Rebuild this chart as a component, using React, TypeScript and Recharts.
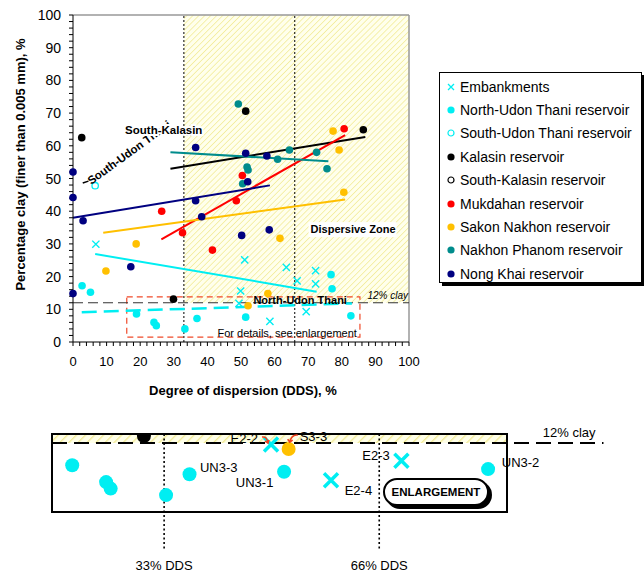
import React from "react";
import {
  ScatterChart, Scatter, XAxis, YAxis, ReferenceArea, ReferenceLine, ReferenceDot, Legend,
} from "recharts";

const FONT = "'Liberation Sans', Arial, Helvetica, sans-serif";
const CYAN = "#00eef2";
const GOLD = "#ffc000";
const TEAL = "#008c8c";
const NAVY = "#000080";
const RED = "#ff0000";

// points: [DDS %, clay %]
const embankments = [
  [6.8, 29.9], [51.1, 25.1], [63.5, 22.8], [72.2, 21.8], [66.7, 18.7],
  [72.2, 17.8], [49.9, 15.6], [49.4, 11.8], [69.4, 9.3], [58.6, 6.3],
];
const northUdon = [
  [2.7, 17.2], [5.2, 15.2], [18.9, 8.6], [24.1, 6.0], [24.8, 5.0], [33.3, 4.0],
  [36.9, 7.2], [51.4, 7.6], [76.8, 20.6], [77.1, 16.3], [82.7, 8.0],
];
const southUdon = [[6.6, 47.8]];
const kalasin = [[2.6, 62.5], [51.4, 70.6], [86.4, 64.9], [29.9, 13.1]];
const southKalasin: number[][] = [];
const mukdahan = [[26.4, 40.0], [32.6, 33.4], [41.5, 28.1], [48.6, 43.2], [50.4, 50.9], [80.7, 65.2]];
const sakon = [
  [9.8, 21.7], [18.8, 30.0], [52.1, 11.1], [58.0, 14.8], [61.6, 31.7],
  [77.4, 64.5], [79.2, 58.7], [80.6, 45.8],
];
const nakhon = [
  [49.2, 72.8], [51.8, 53.5], [52.1, 52.6], [50.5, 48.4], [60.9, 55.9],
  [64.4, 58.7], [72.5, 58.0], [75.6, 53.0],
];
const nongKhai = [
  [0, 52.0], [0, 44.2], [0, 14.8], [3.0, 37.1], [17.2, 23.0], [36.5, 59.5], [36.5, 43.2],
  [38.3, 38.3], [50.2, 32.6], [51.4, 57.7], [52.0, 49.0], [57.7, 56.9], [58.4, 34.3],
];

// trend lines: [start, end]
const embankmentTrend = [[6.6, 26.9], [72.5, 15.4]];
const northUdonTrend = [[2.6, 9.1], [83.0, 11.8]];
const kalasinTrend = [[29.0, 53.0], [87.0, 62.7]];
const mukdahanTrend = [[26.3, 31.4], [81.0, 63.3]];
const sakonTrend = [[9.0, 33.4], [81.0, 43.6]];
const nakhonTrend = [[29.0, 58.0], [76.0, 55.3]];
const nongKhaiTrend = [[0, 38.0], [58.6, 47.9]];
const southKalasinLeader = [[32.8, 63.3], [37.3, 63.3]];
const southUdonLeader = [[2.9, 48.6], [4.6, 49.2]];

const axisTicks = [
  0, 2, 4, 6, 8, 10, 12, 14, 16, 18, 20, 22, 24, 26, 28, 30, 32, 34, 36, 38, 40, 42, 44, 46, 48, 50,
  52, 54, 56, 58, 60, 62, 64, 66, 68, 70, 72, 74, 76, 78, 80, 82, 84, 86, 88, 90, 92, 94, 96, 98, 100,
];

const series = [
  { name: "Embankments", data: embankments, color: CYAN, mark: "x" },
  { name: "North-Udon Thani reservoir", data: northUdon, color: CYAN, mark: "dot" },
  { name: "South-Udon Thani reservoir", data: southUdon, color: CYAN, mark: "ring" },
  { name: "Kalasin reservoir", data: kalasin, color: "#000", mark: "dot" },
  { name: "South-Kalasin reservoir", data: southKalasin, color: "#000", mark: "ring" },
  { name: "Mukdahan reservoir", data: mukdahan, color: RED, mark: "dot" },
  { name: "Sakon Nakhon reservoir", data: sakon, color: GOLD, mark: "dot" },
  { name: "Nakhon Phanom reservoir", data: nakhon, color: TEAL, mark: "dot" },
  { name: "Nong Khai reservoir", data: nongKhai, color: NAVY, mark: "dot" },
];

const trends = [
  { pts: embankmentTrend, color: CYAN, width: 2 },
  { pts: northUdonTrend, color: CYAN, width: 2.5, dash: "15 7" },
  { pts: kalasinTrend, color: "#000", width: 2 },
  { pts: mukdahanTrend, color: RED, width: 2 },
  { pts: sakonTrend, color: GOLD, width: 2 },
  { pts: nakhonTrend, color: TEAL, width: 2 },
  { pts: nongKhaiTrend, color: NAVY, width: 2 },
  { pts: southKalasinLeader, color: "#000", width: 1.5 },
  { pts: southUdonLeader, color: "#000", width: 1.5 },
];

const mainNotes = [
  { text: "South-Udon Thani", x: 5.4, y: 48.0, size: 11.5, bold: true, angle: -36 },
  { text: "South-Kalasin", x: 15.5, y: 63.6, size: 11.5, bold: true, halo: true },
  { text: "Dispersive Zone", x: 70.7, y: 33.3, size: 11, bold: true, box: 88 },
  { text: "North-Udon Thani", x: 53.7, y: 11.6, size: 11, bold: true },
  { text: "12% clay", x: 99.7, y: 13.1, size: 10, anchor: "end", italic: true },
  { text: "For details, see enlargement", x: 43.0, y: 1.5, size: 11 },
];

const enlargeNotes = [
  { text: "E2-2", x: 47.4, y: 12.0, size: 13, anchor: "end", arrow: "M4,-6 Q9,-7 10,0 M7,-2 L10,0 L11,-3" },
  { text: "S3-3", x: 53.8, y: 12.3, size: 13, arrow: "M-2,-6 Q-8,-7 -10,1 M-12,-2 L-10,1 L-7,-1" },
  { text: "UN3-3", x: 38.5, y: 7.55, size: 13 },
  { text: "UN3-1", x: 44.0, y: 5.25, size: 13 },
  { text: "E2-3", x: 63.4, y: 9.4, size: 13 },
  { text: "E2-4", x: 60.7, y: 4.0, size: 13 },
  { text: "UN3-2", x: 84.8, y: 8.3, size: 13 },
  { text: "12% clay", x: 91.1, y: 12.9, size: 13 },
  { text: "33% DDS", x: 33, y: -7.5, size: 13, anchor: "middle" },
  { text: "66% DDS", x: 66, y: -7.5, size: 13, anchor: "middle" },
];

const enlargeBox = { x1: 15.8, x2: 85.6, y1: 1.4, y2: 13.4 };

const pts = (a: number[][]) => a.map(([x, y]) => ({ x, y }));
const inBox = (a: number[][]) =>
  a.filter(([x, y]) => x >= enlargeBox.x1 && x <= enlargeBox.x2 && y >= enlargeBox.y1 && y <= 13.6);

const markShape = (mark: string, color: string, r: number, sw: number) => (p: any) => {
  const { cx, cy } = p;
  if (mark === "x")
    return (
      <path
        d={`M${cx - r},${cy - r}L${cx + r},${cy + r}M${cx + r},${cy - r}L${cx - r},${cy + r}`}
        stroke={color} strokeWidth={sw} fill="none"
      />
    );
  if (mark === "ring") return <circle cx={cx} cy={cy} r={r - 0.6} fill="#fff" stroke={color} strokeWidth={1.3} />;
  return <circle cx={cx} cy={cy} r={r} fill={color} />;
};

const noteLabel = (n: any) => (props: any) => {
  const { x, y } = props.viewBox;
  return (
    <g>
      {n.box && <rect x={x - 2} y={y - 11} width={n.box} height={15} fill="#fff" />}
      <text
        x={x} y={y}
        transform={n.angle ? `rotate(${n.angle} ${x} ${y})` : undefined}
        textAnchor={n.anchor || "start"}
        fontFamily={FONT} fontSize={n.size}
        fontWeight={n.bold ? "bold" : "normal"}
        fontStyle={n.italic ? "italic" : "normal"}
        fill="#000"
        stroke={n.halo ? "#fff" : "none"} strokeWidth={n.halo ? 4 : 0} paintOrder="stroke"
      >
        {n.text}
      </text>
      {n.arrow && (
        <path d={n.arrow} transform={`translate(${x} ${y})`} stroke="#f04020" strokeWidth={1.5} fill="none" />
      )}
    </g>
  );
};

const XTick = (p: any) =>
  p.payload.value % 10 === 0 ? (
    <text x={p.x} y={p.y} dy={18} textAnchor="middle" fontFamily={FONT} fontSize={13} fill="#000">
      {p.payload.value}
    </text>
  ) : <g />;

const YTick = (p: any) =>
  p.payload.value % 10 === 0 ? (
    <text x={p.x - 6} y={p.y} dy={5} textAnchor="end" fontFamily={FONT} fontSize={14} fill="#000">
      {p.payload.value}
    </text>
  ) : <g />;

const LegendBox = () => (
  <div
    style={{
      width: 203, height: 211, boxSizing: "border-box", border: "1px solid #000",
      boxShadow: "3px 3px 0 #000", background: "#fff", padding: "2px 0 0 7px",
      fontFamily: FONT, fontSize: 14, color: "#000",
    }}
  >
    {series.map((s) => (
      <div key={s.name} style={{ height: 23.4, display: "flex", alignItems: "center", whiteSpace: "nowrap" }}>
        <svg width={8} height={8} style={{ marginRight: 5 }}>
          {s.mark === "x" ? (
            <path d="M1,1L7,7M7,1L1,7" stroke={s.color} strokeWidth={1.3} />
          ) : s.mark === "ring" ? (
            <circle cx={4} cy={4} r={3} fill="#fff" stroke={s.color} strokeWidth={1.2} />
          ) : (
            <circle cx={4} cy={4} r={3.6} fill={s.color} />
          )}
        </svg>
        {s.name}
      </div>
    ))}
  </div>
);

export default function App() {
  return (
    <div style={{ position: "absolute", left: 0, top: 0, width: 644, height: 573, background: "#fff", fontFamily: FONT }}>
      <div style={{ position: "absolute", left: 0, top: 0 }}>
        <ScatterChart width={644} height={410} margin={{ top: 15, right: 235, bottom: 38, left: 23 }}>
          <defs>
            <pattern id="hatch" patternUnits="userSpaceOnUse" width="4.2" height="4.2" patternTransform="rotate(45)">
              <rect width="4.2" height="4.2" fill="#ffffec" />
              <line x1="0" y1="0" x2="0" y2="4.2" stroke="#f3ed9c" strokeWidth="1.6" />
            </pattern>
          </defs>
          <XAxis
            type="number" dataKey="x" domain={[0, 100]} ticks={axisTicks} interval={0}
            tickSize={4} height={30} stroke="#000" tick={<XTick />}
            label={(p: any) => (
              <text x={p.viewBox.x + p.viewBox.width / 2 + 2} y={p.viewBox.y + 53} textAnchor="middle"
                fontFamily={FONT} fontSize={13} fontWeight="bold" fill="#000">
                Degree of dispersion (DDS), %
              </text>
            )}
          />
          <YAxis
            type="number" dataKey="y" domain={[0, 100]} ticks={axisTicks} interval={0}
            tickSize={4} width={50} stroke="#000" tick={<YTick />}
            label={(p: any) => {
              const cx = p.viewBox.x + 2;
              const cy = p.viewBox.y + p.viewBox.height / 2 - 14;
              return (
                <text x={cx} y={cy} transform={`rotate(-90 ${cx} ${cy})`} textAnchor="middle"
                  fontFamily={FONT} fontSize={13} fontWeight="bold" fill="#000">
                  Percentage clay (finer than 0.005 mm), %
                </text>
              );
            }}
          />
          <ReferenceArea x1={33} x2={100} y1={12} y2={100} fill="url(#hatch)" fillOpacity={1} stroke="none" />
          <ReferenceLine y={100} stroke="#999" strokeWidth={1.5} />
          <ReferenceLine x={100} stroke="#999" strokeWidth={1.5} />
          <ReferenceLine x={33} stroke="#000" strokeDasharray="2 2" />
          <ReferenceLine x={66} stroke="#000" strokeDasharray="2 2" />
          <ReferenceLine y={12} stroke="#333" strokeDasharray="10 5" />
          <ReferenceArea x1={16} x2={85.4} y1={1.5} y2={13.8} fill="none" fillOpacity={0}
            stroke="#f04a2a" strokeDasharray="6 4" strokeWidth={1.2} />
          {trends.map((t, i) => (
            <ReferenceLine key={"t" + i} segment={pts(t.pts)} stroke={t.color} strokeWidth={t.width}
              strokeDasharray={t.dash} ifOverflow="visible" />
          ))}
          {series.map((s) => (
            <Scatter key={s.name} name={s.name} data={pts(s.data)} isAnimationActive={false}
              shape={markShape(s.mark, s.color, s.mark === "x" ? 3.6 : 3.8, 1.4)} />
          ))}
          {mainNotes.map((n, i) => (
            <ReferenceDot key={"n" + i} x={n.x} y={n.y} r={0} fill="none" stroke="none"
              ifOverflow="visible" label={noteLabel(n)} />
          ))}
          <Legend layout="vertical" align="center" verticalAlign="middle" content={<LegendBox />}
            wrapperStyle={{ left: 439, top: 72, width: 203, height: 211 }} />
        </ScatterChart>
      </div>

      <div style={{ position: "absolute", left: 0, top: 420 }}>
        <ScatterChart width={644} height={153} margin={{ top: 14, right: 137, bottom: 61, left: 52 }}>
          <defs>
            <pattern id="hatch2" patternUnits="userSpaceOnUse" width="6.4" height="6.4" patternTransform="rotate(45)">
              <rect width="6.4" height="6.4" fill="#ffffe8" />
              <line x1="0" y1="0" x2="0" y2="6.4" stroke="#f2ea94" strokeWidth="2.6" />
            </pattern>
          </defs>
          <XAxis type="number" dataKey="x" hide domain={[enlargeBox.x1, enlargeBox.x2]} allowDataOverflow />
          <YAxis type="number" dataKey="y" hide domain={[enlargeBox.y1, enlargeBox.y2]} allowDataOverflow />
          <ReferenceArea x1={enlargeBox.x1} x2={enlargeBox.x2} y1={12} y2={enlargeBox.y2}
            fill="url(#hatch2)" fillOpacity={1} stroke="none" />
          <ReferenceArea x1={enlargeBox.x1} x2={enlargeBox.x2} y1={enlargeBox.y1} y2={enlargeBox.y2}
            fill="none" fillOpacity={0} stroke="#000" strokeWidth={2} />
          <ReferenceLine segment={[{ x: enlargeBox.x1, y: 12 }, { x: 100.4, y: 12 }]} stroke="#000"
            strokeWidth={2} strokeDasharray="15 7" ifOverflow="visible" />
          <ReferenceLine segment={[{ x: 33, y: enlargeBox.y2 }, { x: 33, y: -4.2 }]} stroke="#000"
            strokeWidth={1.6} strokeDasharray="2 2.5" ifOverflow="visible" />
          <ReferenceLine segment={[{ x: 66, y: enlargeBox.y2 }, { x: 66, y: -4.2 }]} stroke="#000"
            strokeWidth={1.6} strokeDasharray="2 2.5" ifOverflow="visible" />
          {series.map((s) => (
            <Scatter key={s.name} name={s.name} data={pts(inBox(s.data))} isAnimationActive={false}
              shape={markShape(s.mark, s.color, 7, 3.5)} />
          ))}
          {enlargeNotes.map((n, i) => (
            <ReferenceDot key={"e" + i} x={n.x} y={n.y} r={0} fill="none" stroke="none"
              ifOverflow="visible" label={noteLabel(n)} />
          ))}
        </ScatterChart>
      </div>

      <div
        style={{
          position: "absolute", left: 383, top: 478, width: 106, height: 28, boxSizing: "border-box",
          border: "2px solid #000", borderRadius: 14, boxShadow: "3px 3px 0 #000", background: "#fff",
          display: "flex", alignItems: "center", justifyContent: "center",
          fontFamily: FONT, fontSize: 11.5, fontWeight: "bold", color: "#000",
        }}
      >
        ENLARGEMENT
      </div>
    </div>
  );
}
